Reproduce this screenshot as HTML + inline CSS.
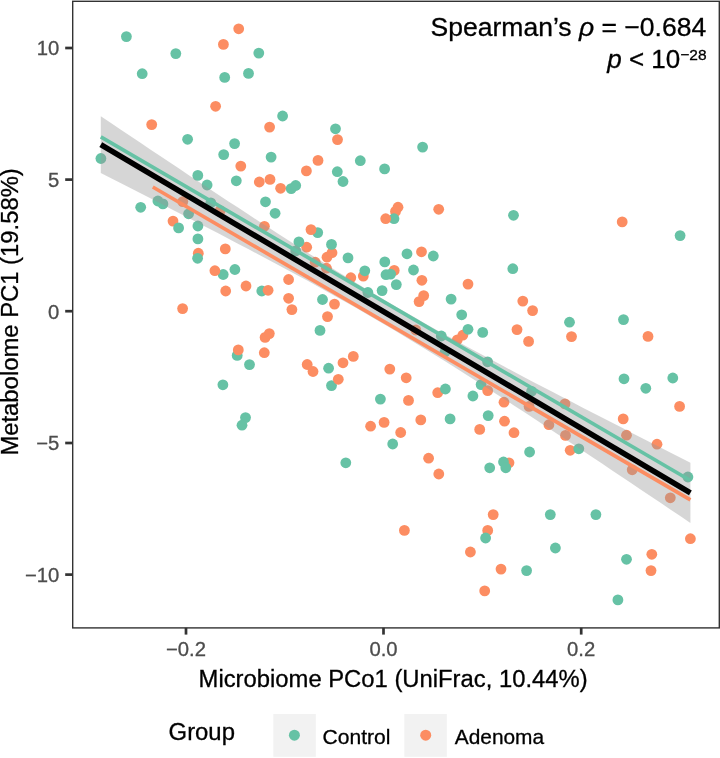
<!DOCTYPE html>
<html><head><meta charset="utf-8"><title>plot</title>
<style>
html,body{margin:0;padding:0;background:#fff;}
svg{display:block;will-change:transform;font-family:"Liberation Sans",sans-serif;}
</style></head><body>
<svg width="720" height="758" viewBox="0 0 720 758">
<rect width="720" height="758" fill="#fff"/>
<g>
<circle cx="126.4" cy="36.6" r="5.4" fill="#66c2a5"/>
<circle cx="175.8" cy="53.6" r="5.4" fill="#66c2a5"/>
<circle cx="142.2" cy="73.7" r="5.4" fill="#66c2a5"/>
<circle cx="223.4" cy="44.4" r="5.4" fill="#fc8d62"/>
<circle cx="238.7" cy="28.8" r="5.4" fill="#fc8d62"/>
<circle cx="224.7" cy="77.4" r="5.4" fill="#66c2a5"/>
<circle cx="215.6" cy="106.3" r="5.4" fill="#fc8d62"/>
<circle cx="151.7" cy="124.6" r="5.4" fill="#fc8d62"/>
<circle cx="187.6" cy="139.3" r="5.4" fill="#66c2a5"/>
<circle cx="234.6" cy="143.6" r="5.4" fill="#66c2a5"/>
<circle cx="223.7" cy="154.6" r="5.4" fill="#66c2a5"/>
<circle cx="100.9" cy="158.5" r="5.4" fill="#66c2a5"/>
<circle cx="240.8" cy="166.1" r="5.4" fill="#fc8d62"/>
<circle cx="197.8" cy="175.4" r="5.4" fill="#66c2a5"/>
<circle cx="236.3" cy="180.8" r="5.4" fill="#66c2a5"/>
<circle cx="207.1" cy="185.0" r="5.4" fill="#66c2a5"/>
<circle cx="258.8" cy="53.1" r="5.4" fill="#66c2a5"/>
<circle cx="248.5" cy="73.4" r="5.4" fill="#66c2a5"/>
<circle cx="282.6" cy="116.0" r="5.4" fill="#66c2a5"/>
<circle cx="269.6" cy="127.1" r="5.4" fill="#fc8d62"/>
<circle cx="335.5" cy="128.8" r="5.4" fill="#66c2a5"/>
<circle cx="337.5" cy="139.6" r="5.4" fill="#fc8d62"/>
<circle cx="271.1" cy="157.1" r="5.4" fill="#66c2a5"/>
<circle cx="318.0" cy="160.4" r="5.4" fill="#fc8d62"/>
<circle cx="360.3" cy="160.7" r="5.4" fill="#66c2a5"/>
<circle cx="306.4" cy="170.9" r="5.4" fill="#fc8d62"/>
<circle cx="337.3" cy="171.7" r="5.4" fill="#66c2a5"/>
<circle cx="384.6" cy="168.9" r="5.4" fill="#66c2a5"/>
<circle cx="259.3" cy="182.0" r="5.4" fill="#fc8d62"/>
<circle cx="270.0" cy="179.4" r="5.4" fill="#fc8d62"/>
<circle cx="343.0" cy="181.5" r="5.4" fill="#66c2a5"/>
<circle cx="280.6" cy="188.3" r="5.4" fill="#fc8d62"/>
<circle cx="291.2" cy="188.6" r="5.4" fill="#66c2a5"/>
<circle cx="295.7" cy="185.5" r="5.4" fill="#66c2a5"/>
<circle cx="422.6" cy="147.1" r="5.4" fill="#66c2a5"/>
<circle cx="140.7" cy="207.3" r="5.4" fill="#66c2a5"/>
<circle cx="157.9" cy="201.0" r="5.4" fill="#66c2a5"/>
<circle cx="162.9" cy="203.9" r="5.4" fill="#66c2a5"/>
<circle cx="182.8" cy="201.6" r="5.4" fill="#fc8d62"/>
<circle cx="188.6" cy="213.8" r="5.4" fill="#66c2a5"/>
<circle cx="220.2" cy="210.6" r="5.4" fill="#fc8d62"/>
<circle cx="210.8" cy="202.8" r="5.4" fill="#66c2a5"/>
<circle cx="173.0" cy="221.1" r="5.4" fill="#fc8d62"/>
<circle cx="178.6" cy="227.9" r="5.4" fill="#66c2a5"/>
<circle cx="197.9" cy="226.0" r="5.4" fill="#66c2a5"/>
<circle cx="197.9" cy="238.9" r="5.4" fill="#66c2a5"/>
<circle cx="198.3" cy="253.2" r="5.4" fill="#fc8d62"/>
<circle cx="197.6" cy="258.3" r="5.4" fill="#66c2a5"/>
<circle cx="225.3" cy="248.9" r="5.4" fill="#fc8d62"/>
<circle cx="223.2" cy="274.5" r="5.4" fill="#66c2a5"/>
<circle cx="214.9" cy="270.7" r="5.4" fill="#fc8d62"/>
<circle cx="234.9" cy="269.5" r="5.4" fill="#66c2a5"/>
<circle cx="225.7" cy="291.0" r="5.4" fill="#fc8d62"/>
<circle cx="182.6" cy="308.6" r="5.4" fill="#fc8d62"/>
<circle cx="237.2" cy="355.4" r="5.4" fill="#66c2a5"/>
<circle cx="238.3" cy="349.9" r="5.4" fill="#fc8d62"/>
<circle cx="265.5" cy="201.8" r="5.4" fill="#66c2a5"/>
<circle cx="275.1" cy="213.3" r="5.4" fill="#66c2a5"/>
<circle cx="264.4" cy="226.3" r="5.4" fill="#fc8d62"/>
<circle cx="317.7" cy="232.6" r="5.4" fill="#66c2a5"/>
<circle cx="311.0" cy="229.6" r="5.4" fill="#fc8d62"/>
<circle cx="398.0" cy="207.2" r="5.4" fill="#fc8d62"/>
<circle cx="395.5" cy="211.4" r="5.4" fill="#fc8d62"/>
<circle cx="394.0" cy="218.7" r="5.4" fill="#66c2a5"/>
<circle cx="385.7" cy="218.7" r="5.4" fill="#fc8d62"/>
<circle cx="306.7" cy="247.2" r="5.4" fill="#fc8d62"/>
<circle cx="298.9" cy="241.9" r="5.4" fill="#66c2a5"/>
<circle cx="295.7" cy="250.9" r="5.4" fill="#66c2a5"/>
<circle cx="327.0" cy="257.2" r="5.4" fill="#fc8d62"/>
<circle cx="332.0" cy="252.7" r="5.4" fill="#fc8d62"/>
<circle cx="331.5" cy="244.4" r="5.4" fill="#66c2a5"/>
<circle cx="348.0" cy="257.9" r="5.4" fill="#66c2a5"/>
<circle cx="407.0" cy="253.8" r="5.4" fill="#66c2a5"/>
<circle cx="384.8" cy="261.9" r="5.4" fill="#66c2a5"/>
<circle cx="394.2" cy="270.4" r="5.4" fill="#fc8d62"/>
<circle cx="390.6" cy="274.1" r="5.4" fill="#66c2a5"/>
<circle cx="386.0" cy="274.7" r="5.4" fill="#66c2a5"/>
<circle cx="413.5" cy="270.0" r="5.4" fill="#66c2a5"/>
<circle cx="363.3" cy="276.1" r="5.4" fill="#fc8d62"/>
<circle cx="364.8" cy="270.8" r="5.4" fill="#66c2a5"/>
<circle cx="350.8" cy="277.7" r="5.4" fill="#fc8d62"/>
<circle cx="315.2" cy="262.2" r="5.4" fill="#fc8d62"/>
<circle cx="326.5" cy="268.2" r="5.4" fill="#fc8d62"/>
<circle cx="396.3" cy="284.6" r="5.4" fill="#66c2a5"/>
<circle cx="382.1" cy="290.6" r="5.4" fill="#66c2a5"/>
<circle cx="367.9" cy="292.5" r="5.4" fill="#66c2a5"/>
<circle cx="288.6" cy="279.5" r="5.4" fill="#fc8d62"/>
<circle cx="246.0" cy="286.0" r="5.4" fill="#fc8d62"/>
<circle cx="261.8" cy="291.0" r="5.4" fill="#66c2a5"/>
<circle cx="268.1" cy="290.3" r="5.4" fill="#fc8d62"/>
<circle cx="288.6" cy="298.3" r="5.4" fill="#fc8d62"/>
<circle cx="291.9" cy="309.6" r="5.4" fill="#fc8d62"/>
<circle cx="322.5" cy="299.5" r="5.4" fill="#66c2a5"/>
<circle cx="334.5" cy="304.1" r="5.4" fill="#fc8d62"/>
<circle cx="327.5" cy="316.6" r="5.4" fill="#fc8d62"/>
<circle cx="320.0" cy="330.4" r="5.4" fill="#66c2a5"/>
<circle cx="265.1" cy="337.4" r="5.4" fill="#fc8d62"/>
<circle cx="269.3" cy="333.6" r="5.4" fill="#fc8d62"/>
<circle cx="264.3" cy="352.7" r="5.4" fill="#fc8d62"/>
<circle cx="249.5" cy="364.6" r="5.4" fill="#66c2a5"/>
<circle cx="307.2" cy="364.5" r="5.4" fill="#fc8d62"/>
<circle cx="313.0" cy="371.5" r="5.4" fill="#fc8d62"/>
<circle cx="328.6" cy="368.2" r="5.4" fill="#66c2a5"/>
<circle cx="343.0" cy="362.8" r="5.4" fill="#fc8d62"/>
<circle cx="353.3" cy="356.4" r="5.4" fill="#fc8d62"/>
<circle cx="389.8" cy="369.1" r="5.4" fill="#fc8d62"/>
<circle cx="438.7" cy="209.3" r="5.4" fill="#fc8d62"/>
<circle cx="513.5" cy="215.3" r="5.4" fill="#66c2a5"/>
<circle cx="421.5" cy="251.8" r="5.4" fill="#fc8d62"/>
<circle cx="433.3" cy="256.0" r="5.4" fill="#66c2a5"/>
<circle cx="421.9" cy="280.3" r="5.4" fill="#fc8d62"/>
<circle cx="468.0" cy="284.1" r="5.4" fill="#fc8d62"/>
<circle cx="512.8" cy="268.7" r="5.4" fill="#66c2a5"/>
<circle cx="419.1" cy="301.6" r="5.4" fill="#fc8d62"/>
<circle cx="423.7" cy="295.6" r="5.4" fill="#fc8d62"/>
<circle cx="451.1" cy="299.1" r="5.4" fill="#66c2a5"/>
<circle cx="461.7" cy="314.8" r="5.4" fill="#66c2a5"/>
<circle cx="522.8" cy="301.1" r="5.4" fill="#fc8d62"/>
<circle cx="532.6" cy="310.6" r="5.4" fill="#fc8d62"/>
<circle cx="569.5" cy="322.2" r="5.4" fill="#66c2a5"/>
<circle cx="457.3" cy="339.8" r="5.4" fill="#fc8d62"/>
<circle cx="462.8" cy="335.2" r="5.4" fill="#fc8d62"/>
<circle cx="468.0" cy="329.3" r="5.4" fill="#66c2a5"/>
<circle cx="482.7" cy="332.4" r="5.4" fill="#66c2a5"/>
<circle cx="517.0" cy="329.6" r="5.4" fill="#fc8d62"/>
<circle cx="528.6" cy="341.4" r="5.4" fill="#fc8d62"/>
<circle cx="571.5" cy="336.6" r="5.4" fill="#fc8d62"/>
<circle cx="441.3" cy="336.0" r="5.4" fill="#66c2a5"/>
<circle cx="415.8" cy="330.0" r="5.4" fill="#fc8d62"/>
<circle cx="445.0" cy="352.0" r="5.4" fill="#66c2a5"/>
<circle cx="487.6" cy="361.8" r="5.4" fill="#66c2a5"/>
<circle cx="622.2" cy="221.9" r="5.4" fill="#fc8d62"/>
<circle cx="680.1" cy="235.6" r="5.4" fill="#66c2a5"/>
<circle cx="623.5" cy="319.6" r="5.4" fill="#66c2a5"/>
<circle cx="648.0" cy="336.4" r="5.4" fill="#fc8d62"/>
<circle cx="222.9" cy="384.8" r="5.4" fill="#66c2a5"/>
<circle cx="331.5" cy="385.6" r="5.4" fill="#66c2a5"/>
<circle cx="338.3" cy="379.3" r="5.4" fill="#fc8d62"/>
<circle cx="406.2" cy="377.8" r="5.4" fill="#fc8d62"/>
<circle cx="380.4" cy="399.1" r="5.4" fill="#66c2a5"/>
<circle cx="408.5" cy="400.4" r="5.4" fill="#fc8d62"/>
<circle cx="245.5" cy="417.6" r="5.4" fill="#66c2a5"/>
<circle cx="242.0" cy="425.2" r="5.4" fill="#66c2a5"/>
<circle cx="370.6" cy="426.2" r="5.4" fill="#fc8d62"/>
<circle cx="384.1" cy="422.4" r="5.4" fill="#fc8d62"/>
<circle cx="400.7" cy="432.5" r="5.4" fill="#fc8d62"/>
<circle cx="392.7" cy="444.0" r="5.4" fill="#66c2a5"/>
<circle cx="345.8" cy="462.8" r="5.4" fill="#66c2a5"/>
<circle cx="404.4" cy="530.4" r="5.4" fill="#fc8d62"/>
<circle cx="437.7" cy="392.7" r="5.4" fill="#fc8d62"/>
<circle cx="445.4" cy="389.0" r="5.4" fill="#66c2a5"/>
<circle cx="472.9" cy="396.0" r="5.4" fill="#66c2a5"/>
<circle cx="481.1" cy="384.6" r="5.4" fill="#66c2a5"/>
<circle cx="487.7" cy="390.6" r="5.4" fill="#fc8d62"/>
<circle cx="504.0" cy="402.2" r="5.4" fill="#fc8d62"/>
<circle cx="531.6" cy="391.3" r="5.4" fill="#66c2a5"/>
<circle cx="529.1" cy="406.4" r="5.4" fill="#fc8d62"/>
<circle cx="565.0" cy="403.9" r="5.4" fill="#fc8d62"/>
<circle cx="420.8" cy="419.9" r="5.4" fill="#fc8d62"/>
<circle cx="450.1" cy="418.9" r="5.4" fill="#66c2a5"/>
<circle cx="488.2" cy="415.6" r="5.4" fill="#66c2a5"/>
<circle cx="504.5" cy="421.2" r="5.4" fill="#fc8d62"/>
<circle cx="479.7" cy="429.4" r="5.4" fill="#fc8d62"/>
<circle cx="514.0" cy="432.7" r="5.4" fill="#fc8d62"/>
<circle cx="548.9" cy="424.7" r="5.4" fill="#fc8d62"/>
<circle cx="565.5" cy="435.4" r="5.4" fill="#fc8d62"/>
<circle cx="570.2" cy="450.3" r="5.4" fill="#fc8d62"/>
<circle cx="578.8" cy="448.8" r="5.4" fill="#66c2a5"/>
<circle cx="529.6" cy="452.0" r="5.4" fill="#66c2a5"/>
<circle cx="428.6" cy="458.2" r="5.4" fill="#fc8d62"/>
<circle cx="438.8" cy="474.0" r="5.4" fill="#fc8d62"/>
<circle cx="489.7" cy="467.8" r="5.4" fill="#66c2a5"/>
<circle cx="509.0" cy="462.8" r="5.4" fill="#fc8d62"/>
<circle cx="503.5" cy="462.0" r="5.4" fill="#66c2a5"/>
<circle cx="505.8" cy="467.8" r="5.4" fill="#66c2a5"/>
<circle cx="493.2" cy="514.6" r="5.4" fill="#fc8d62"/>
<circle cx="550.3" cy="514.6" r="5.4" fill="#66c2a5"/>
<circle cx="487.7" cy="530.4" r="5.4" fill="#fc8d62"/>
<circle cx="485.6" cy="538.0" r="5.4" fill="#66c2a5"/>
<circle cx="470.4" cy="552.0" r="5.4" fill="#fc8d62"/>
<circle cx="555.4" cy="548.0" r="5.4" fill="#66c2a5"/>
<circle cx="624.0" cy="378.8" r="5.4" fill="#66c2a5"/>
<circle cx="645.8" cy="388.3" r="5.4" fill="#66c2a5"/>
<circle cx="672.8" cy="378.0" r="5.4" fill="#66c2a5"/>
<circle cx="679.6" cy="406.4" r="5.4" fill="#fc8d62"/>
<circle cx="623.2" cy="418.9" r="5.4" fill="#fc8d62"/>
<circle cx="626.5" cy="435.2" r="5.4" fill="#fc8d62"/>
<circle cx="657.0" cy="444.2" r="5.4" fill="#fc8d62"/>
<circle cx="632.2" cy="469.8" r="5.4" fill="#fc8d62"/>
<circle cx="687.9" cy="477.0" r="5.4" fill="#66c2a5"/>
<circle cx="670.3" cy="497.8" r="5.4" fill="#fc8d62"/>
<circle cx="595.9" cy="514.6" r="5.4" fill="#66c2a5"/>
<circle cx="690.4" cy="538.7" r="5.4" fill="#fc8d62"/>
<circle cx="501.0" cy="569.1" r="5.4" fill="#fc8d62"/>
<circle cx="526.6" cy="570.6" r="5.4" fill="#66c2a5"/>
<circle cx="484.7" cy="590.9" r="5.4" fill="#fc8d62"/>
<circle cx="626.5" cy="559.3" r="5.4" fill="#66c2a5"/>
<circle cx="651.8" cy="554.3" r="5.4" fill="#fc8d62"/>
<circle cx="651.0" cy="570.6" r="5.4" fill="#fc8d62"/>
<circle cx="617.9" cy="599.9" r="5.4" fill="#66c2a5"/>
</g>
<path d="M100.8,116.2 L110.6,122.8 L120.5,129.4 L130.3,136.0 L140.1,142.6 L149.9,149.2 L159.8,155.7 L169.6,162.3 L179.4,168.8 L189.2,175.4 L199.1,181.9 L208.9,188.4 L218.7,194.9 L228.5,201.4 L238.4,207.8 L248.2,214.3 L258.0,220.7 L267.9,227.1 L277.7,233.5 L287.5,239.8 L297.3,246.1 L307.2,252.4 L317.0,258.6 L326.8,264.8 L336.6,270.9 L346.5,277.0 L356.3,283.0 L366.1,288.9 L375.9,294.8 L385.8,300.7 L395.6,306.4 L405.4,312.1 L415.3,317.8 L425.1,323.4 L434.9,328.9 L444.7,334.4 L454.6,339.8 L464.4,345.2 L474.2,350.5 L484.0,355.8 L493.9,361.1 L503.7,366.3 L513.5,371.5 L523.3,376.7 L533.2,381.9 L543.0,387.0 L552.8,392.1 L562.7,397.2 L572.5,402.3 L582.3,407.4 L592.1,412.5 L602.0,417.5 L611.8,422.6 L621.6,427.6 L631.4,432.7 L641.3,437.7 L651.1,442.7 L660.9,447.7 L670.7,452.7 L680.6,457.7 L690.4,462.7 L690.4,522.9 L680.6,516.3 L670.7,509.7 L660.9,503.1 L651.1,496.5 L641.3,489.9 L631.4,483.3 L621.6,476.8 L611.8,470.2 L602.0,463.6 L592.1,457.1 L582.3,450.5 L572.5,444.0 L562.7,437.5 L552.8,431.0 L543.0,424.5 L533.2,418.1 L523.3,411.6 L513.5,405.2 L503.7,398.8 L493.9,392.4 L484.0,386.1 L474.2,379.8 L464.4,373.5 L454.6,367.3 L444.7,361.1 L434.9,355.0 L425.1,348.9 L415.3,342.9 L405.4,336.9 L395.6,331.0 L385.8,325.2 L375.9,319.4 L366.1,313.7 L356.3,308.0 L346.5,302.4 L336.6,296.9 L326.8,291.4 L317.0,286.0 L307.2,280.6 L297.3,275.2 L287.5,269.9 L277.7,264.7 L267.9,259.4 L258.0,254.2 L248.2,249.0 L238.4,243.9 L228.5,238.7 L218.7,233.6 L208.9,228.5 L199.1,223.4 L189.2,218.3 L179.4,213.2 L169.6,208.2 L159.8,203.1 L149.9,198.1 L140.1,193.0 L130.3,188.0 L120.5,183.0 L110.6,178.0 L100.8,173.0Z" fill="#999999" fill-opacity="0.4"/>
<line x1="100.8" y1="136.8" x2="690.4" y2="480.5" stroke="#66c2a5" stroke-width="3.7"/>
<line x1="152.8" y1="187.0" x2="690.4" y2="499.9" stroke="#fc8d62" stroke-width="3.7"/>
<line x1="100.8" y1="144.6" x2="690.4" y2="492.8" stroke="#000" stroke-width="5.6"/>
<rect x="72.7" y="1.3" width="646.6" height="626.6" fill="none" stroke="#333" stroke-width="1.4"/>
<g stroke="#333" stroke-width="2.7">
<line x1="65.2" y1="48" x2="72.5" y2="48"/>
<line x1="65.2" y1="179.6" x2="72.5" y2="179.6"/>
<line x1="65.2" y1="311.2" x2="72.5" y2="311.2"/>
<line x1="65.2" y1="443" x2="72.5" y2="443"/>
<line x1="65.2" y1="574.6" x2="72.5" y2="574.6"/>
<line x1="186" y1="627.8" x2="186" y2="634.6"/>
<line x1="383.5" y1="627.8" x2="383.5" y2="634.6"/>
<line x1="581.2" y1="627.8" x2="581.2" y2="634.6"/>
</g>
<text x="59.4" y="55.3" font-size="19.6px" text-anchor="end" fill="#4d4d4d" stroke="#4d4d4d" stroke-width="0.3" textLength="22.56" lengthAdjust="spacingAndGlyphs">10</text>
<text x="59.4" y="186.9" font-size="19.6px" text-anchor="end" fill="#4d4d4d" stroke="#4d4d4d" stroke-width="0.3" textLength="11.28" lengthAdjust="spacingAndGlyphs">5</text>
<text x="59.4" y="318.5" font-size="19.6px" text-anchor="end" fill="#4d4d4d" stroke="#4d4d4d" stroke-width="0.3" textLength="11.28" lengthAdjust="spacingAndGlyphs">0</text>
<text x="59.4" y="450.3" font-size="19.6px" text-anchor="end" fill="#4d4d4d" stroke="#4d4d4d" stroke-width="0.3" textLength="23.13" lengthAdjust="spacingAndGlyphs">−5</text>
<text x="59.4" y="581.9" font-size="19.6px" text-anchor="end" fill="#4d4d4d" stroke="#4d4d4d" stroke-width="0.3" textLength="34.41" lengthAdjust="spacingAndGlyphs">−10</text>
<text x="186" y="655.9" font-size="19.6px" text-anchor="middle" fill="#4d4d4d" stroke="#4d4d4d" stroke-width="0.3" textLength="40.05" lengthAdjust="spacingAndGlyphs">−0.2</text>
<text x="383.5" y="655.9" font-size="19.6px" text-anchor="middle" fill="#4d4d4d" stroke="#4d4d4d" stroke-width="0.3" textLength="28.2" lengthAdjust="spacingAndGlyphs">0.0</text>
<text x="581.2" y="655.9" font-size="19.6px" text-anchor="middle" fill="#4d4d4d" stroke="#4d4d4d" stroke-width="0.3" textLength="28.2" lengthAdjust="spacingAndGlyphs">0.2</text>
<text x="198.6" y="687.4" font-size="23.3px" text-anchor="start" fill="#000" stroke="#000" stroke-width="0.3" textLength="389" lengthAdjust="spacingAndGlyphs">Microbiome PCo1 (UniFrac, 10.44%)</text>
<g transform="translate(17.9,455.6) rotate(-90)"><text x="0" y="0" font-size="23.3px" text-anchor="start" fill="#000" stroke="#000" stroke-width="0.3" textLength="287.4" lengthAdjust="spacingAndGlyphs">Metabolome PC1 (19.58%)</text></g>
<text x="430.6" y="36.3" font-size="26px" text-anchor="start" fill="#000" stroke="#000" stroke-width="0.3" textLength="275.6" lengthAdjust="spacingAndGlyphs">Spearman’s <tspan font-style="italic">ρ</tspan> = −0.684</text>
<text x="706.6" y="68.1" font-size="26px" text-anchor="end" fill="#000" stroke="#000" stroke-width="0.3"><tspan font-style="italic">p</tspan> &lt; 10<tspan font-size="15.5px" dy="-8.4">−28</tspan></text>
<text x="168.6" y="739.7" font-size="23.3px" text-anchor="start" fill="#000" stroke="#000" stroke-width="0.3" textLength="66.3" lengthAdjust="spacingAndGlyphs">Group</text>
<rect x="273.3" y="714" width="42.5" height="42.8" fill="#f2f2f2"/>
<circle cx="294.4" cy="735.2" r="5.5" fill="#66c2a5"/>
<text x="322.6" y="743.7" font-size="20.7px" text-anchor="start" fill="#000" stroke="#000" stroke-width="0.3" textLength="67.9" lengthAdjust="spacingAndGlyphs">Control</text>
<rect x="404.3" y="714" width="42.5" height="42.8" fill="#f2f2f2"/>
<circle cx="425.7" cy="735.2" r="5.5" fill="#fc8d62"/>
<text x="454.8" y="743.7" font-size="20.7px" text-anchor="start" fill="#000" stroke="#000" stroke-width="0.3" textLength="89.3" lengthAdjust="spacingAndGlyphs">Adenoma</text>
</svg>
</body></html>
